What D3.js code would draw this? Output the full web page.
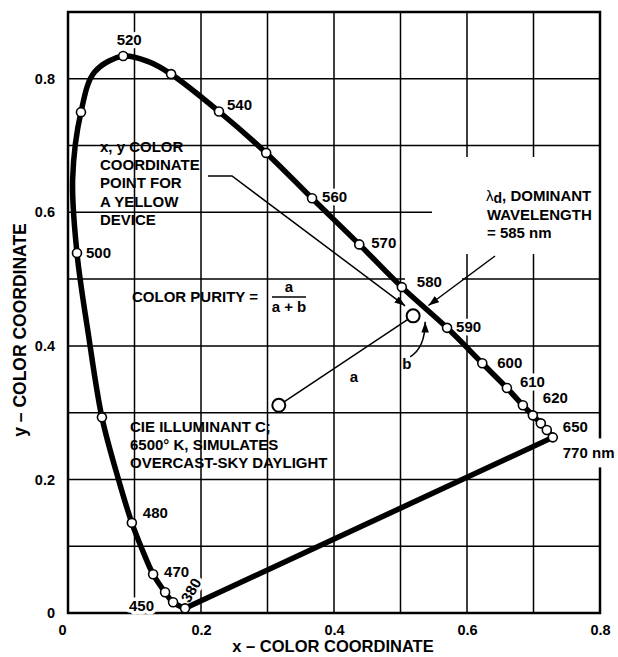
<!DOCTYPE html>
<html>
  <script src="https://d3js.org/d3.v7.min.js" type="text/JavaScript"></script>
  <style>
    body { margin: 0; background: #fff; }
    text { font-family: "Liberation Sans", Arial, sans-serif; font-weight: bold; fill: #000; }
  </style>
  <body>
    <svg></svg>
    <script>
// spectral locus (x, y chromaticity)
var waveNm = [380, 450, 460, 470, 475, 480, 485, 490, 495, 500, 505, 510, 515, 520, 525, 530, 540, 550, 560, 570, 580, 590, 600, 610, 620, 630, 640, 650, 770];
var locusX = [0.176, 0.158, 0.146, 0.128, 0.112, 0.096, 0.073, 0.051, 0.031, 0.0135, 0.007, 0.0195, 0.040, 0.083, 0.120, 0.155, 0.227, 0.298, 0.367, 0.438, 0.502, 0.570, 0.623, 0.660, 0.684, 0.699, 0.711, 0.720, 0.729];
var locusY = [0.007, 0.016, 0.031, 0.058, 0.094, 0.135, 0.210, 0.293, 0.415, 0.539, 0.650, 0.750, 0.810, 0.834, 0.826, 0.807, 0.751, 0.689, 0.621, 0.552, 0.488, 0.427, 0.374, 0.337, 0.311, 0.296, 0.284, 0.274, 0.263];
var hasDot = [1, 1, 1, 1, 0, 1, 0, 1, 0, 1, 0, 1, 0, 1, 0, 1, 1, 1, 1, 1, 1, 1, 1, 1, 1, 1, 1, 1, 1];

var labelNm = [380, 450, 470, 480, 500, 520, 540, 560, 570, 580, 590, 600, 610, 620, 650, 770];

var illumC = [0.317, 0.311];      // CIE illuminant C
var yellowPt = [0.519, 0.445];    // yellow device
var dominantNm = 585;

var xTicks = [0, 0.2, 0.4, 0.6, 0.8];
var yTicks = [0, 0.2, 0.4, 0.6, 0.8];

var W = 618, H = 657;
var svg = d3.select('svg').attr('width', W).attr('height', H);
svg.append('rect').attr('width', W).attr('height', H).attr('fill', '#fff');

var x = d3.scaleLinear().domain([0, 0.8]).range([68, 600]);
var y = d3.scaleLinear().domain([0, 0.9]).range([613, 12]);

var defs = svg.append('defs');
defs.append('marker')
  .attr('id', 'arr')
  .attr('viewBox', '0 0 10 7')
  .attr('refX', 10).attr('refY', 3.5)
  .attr('markerWidth', 11).attr('markerHeight', 7.5)
  .attr('markerUnits', 'userSpaceOnUse')
  .attr('orient', 'auto')
  .append('path').attr('d', 'M0,0 L10,3.5 L0,7 z').attr('fill', '#000');

var pts = waveNm.map((w, i) => ({ nm: w, x: locusX[i], y: locusY[i], dot: hasDot[i] }));

// grid
var grid = svg.append('g').attr('stroke', '#000').attr('stroke-width', 1.5);
grid.selectAll('.gx').data(x.ticks(8).filter(d => d > 0 && d < 0.8)).enter()
  .append('line')
    .attr('x1', d => x(d)).attr('x2', d => x(d))
    .attr('y1', y(0)).attr('y2', y(0.9));
grid.selectAll('.gy').data(y.ticks(9).filter(d => d > 0 && d < 0.9)).enter()
  .append('line')
    .attr('y1', d => y(d)).attr('y2', d => y(d))
    .attr('x1', x(0)).attr('x2', x(0.8));

// white patches where the grid is broken in the original
svg.append('rect')
  .attr('x', 432).attr('y', 157).attr('width', 168).attr('height', 97)
  .attr('fill', '#fff');
svg.append('rect')
  .attr('x', 405).attr('y', 268).attr('width', 57).attr('height', 22)
  .attr('fill', '#fff');

// white inside of the horseshoe hides the grid
var locusLine = d3.line().x(d => x(d.x)).y(d => y(d.y)).curve(d3.curveCatmullRom.alpha(0.5));
var closed = locusLine(pts) + 'Z';
svg.append('path').attr('d', closed).attr('fill', '#fff').attr('stroke', 'none');

// frame
svg.append('rect')
  .attr('x', x(0)).attr('y', y(0.9))
  .attr('width', x(0.8) - x(0)).attr('height', y(0) - y(0.9))
  .attr('fill', 'none').attr('stroke', '#000').attr('stroke-width', 2.5);

// axes
var xAxis = svg.append('g')
  .attr('transform', 'translate(0,' + y(0) + ')')
  .call(d3.axisBottom(x).tickValues(xTicks).tickSize(0).tickPadding(12)
    .tickFormat(d => d === 0 ? '0' : d3.format('.1f')(d)));
xAxis.select('.domain').remove();
xAxis.selectAll('text').attr('font-size', 14.5).attr('font-family', null)
  .attr('dx', d => d === 0 ? -6 : 0);

var yAxis = svg.append('g')
  .attr('transform', 'translate(' + x(0) + ',0)')
  .call(d3.axisLeft(y).tickValues(yTicks).tickSize(0).tickPadding(13)
    .tickFormat(d => d === 0 ? '0' : d3.format('.1f')(d)));
yAxis.select('.domain').remove();
yAxis.selectAll('text').attr('font-size', 14.5).attr('font-family', null);

svg.append('text')
  .attr('x', 333).attr('y', 652)
  .attr('text-anchor', 'middle').attr('font-size', 16.5)
  .text('x \u2013 COLOR COORDINATE');
svg.append('text')
  .attr('transform', 'translate(26,330) rotate(-90)')
  .attr('text-anchor', 'middle').attr('font-size', 17.5)
  .text('y \u2013 COLOR COORDINATE');

// wavelength labels, placed beside their points
var lblOff = {
  380: [6, -18, 'middle'], 450: [-19, 9, 'end'], 470: [11, 3, 'start'], 480: [11, -5, 'start'],
  500: [9, 5, 'start'], 520: [6, -11, 'middle'], 540: [8, -1, 'start'], 560: [10, 4, 'start'],
  570: [12, 4, 'start'], 580: [15, 0, 'start'], 590: [9, 4, 'start'], 600: [15, 5, 'start'],
  610: [13, -1, 'start'], 620: [20, -2, 'start'], 650: [16, 2, 'start'], 770: [10, 21, 'start']
};
var lbls = svg.append('g').attr('font-size', 15);
labelNm.forEach(nm => {
  var p = pts.find(d => d.nm === nm);
  var o = lblOff[nm];
  var px = x(p.x) + o[0], py = y(p.y) + o[1];
  var t = lbls.append('text')
    .attr('text-anchor', o[2])
    .attr('stroke', '#fff').attr('stroke-width', 7).attr('stroke-linejoin', 'round')
    .attr('paint-order', 'stroke')
    .text(nm === 770 ? '770 nm' : nm);
  if (nm === 380) {
    t.attr('transform', 'translate(' + px + ',' + py + ') rotate(-60)').attr('dy', '0.35em');
  } else {
    t.attr('x', px).attr('y', py);
  }
  if (nm === 770) {
    var bb = t.node().getBBox();
    lbls.insert('rect', 'text')
      .attr('x', bb.x - 2).attr('y', bb.y - 6)
      .attr('width', bb.width + 4).attr('height', bb.height + 12)
      .attr('fill', '#fff');
  }
});

// locus and purple line
svg.append('path').attr('d', locusLine(pts))
  .attr('fill', 'none').attr('stroke', '#000').attr('stroke-width', 5.5)
  .attr('stroke-linejoin', 'round');
svg.append('line')
  .attr('x1', x(pts[0].x)).attr('y1', y(pts[0].y))
  .attr('x2', x(pts[pts.length - 1].x)).attr('y2', y(pts[pts.length - 1].y))
  .attr('stroke', '#000').attr('stroke-width', 5.5).attr('stroke-linecap', 'round');

svg.append('g').selectAll('circle')
  .data(pts.filter(d => d.dot))
  .enter()
  .append('circle')
    .attr('cx', d => x(d.x)).attr('cy', d => y(d.y))
    .attr('r', 4.5)
    .attr('fill', '#fff').attr('stroke', '#000').attr('stroke-width', 1.6);

// purity construction
var cx0 = x(illumC[0]), cy0 = y(illumC[1]);
var cx1 = x(yellowPt[0]), cy1 = y(yellowPt[1]);
svg.append('line')
  .attr('x1', cx0).attr('y1', cy0).attr('x2', cx1).attr('y2', cy1)
  .attr('stroke', '#000').attr('stroke-width', 1.5);
[[cx0, cy0], [cx1, cy1]].forEach(c => {
  svg.append('circle').attr('cx', c[0]).attr('cy', c[1]).attr('r', 6.5)
    .attr('fill', '#fff').attr('stroke', '#000').attr('stroke-width', 2);
});

svg.append('text').attr('x', cx0 + 71).attr('y', cy0 - 23).attr('font-size', 15).text('a');
svg.append('text').attr('x', cx1 - 11).attr('y', cy1 + 53).attr('font-size', 15).text('b');

// curved arrow from b up to the locus
svg.append('path')
  .attr('d', 'M' + (cx1 - 3) + ',' + (cy1 + 41) + ' Q' + (cx1 + 12) + ',' + (cy1 + 32) + ' ' + (cx1 + 12) + ',' + (cy1 + 6))
  .attr('fill', 'none').attr('stroke', '#000').attr('stroke-width', 1.5)
  .attr('marker-end', 'url(#arr)');

// leader to the yellow point
svg.append('path')
  .attr('d', 'M208,176 L232,176 L' + (cx1 - 8) + ',' + (cy1 - 10))
  .attr('fill', 'none').attr('stroke', '#000').attr('stroke-width', 1.5)
  .attr('marker-end', 'url(#arr)');

// dominant wavelength arrow
var i0 = waveNm.indexOf(580), i1 = waveNm.indexOf(590);
var f = (dominantNm - 580) / 10;
var dx = x(locusX[i0] + f * (locusX[i1] - locusX[i0]));
var dy = y(locusY[i0] + f * (locusY[i1] - locusY[i0]));
svg.append('line')
  .attr('x1', 495).attr('y1', 256).attr('x2', dx + 4).attr('y2', dy - 2)
  .attr('stroke', '#000').attr('stroke-width', 1.5)
  .attr('marker-end', 'url(#arr)');

// notes
function block(x0, y0, lines) {
  var t = svg.append('text').attr('font-size', 15);
  lines.forEach((s, i) => t.append('tspan').attr('x', x0).attr('y', y0 + i * 18.2).text(s));
  return t;
}
block(100, 152, ['x, y COLOR', 'COORDINATE', 'POINT FOR', 'A YELLOW', 'DEVICE']);
block(130, 432, ['CIE ILLUMINANT C;', '6500\u00b0 K, SIMULATES', 'OVERCAST-SKY DAYLIGHT']);

var dom = svg.append('text').attr('font-size', 15);
var l1 = dom.append('tspan').attr('x', 486).attr('y', 201);
l1.append('tspan').attr('font-weight', 'normal').text('\u03bb');
l1.append('tspan').attr('dy', 2).attr('font-size', 14).text('d');
l1.append('tspan').attr('dy', -2).text(', DOMINANT');
dom.append('tspan').attr('x', 487).attr('y', 220).text('WAVELENGTH');
dom.append('tspan').attr('x', 487).attr('y', 238).text('= 585 nm');

svg.append('text').attr('x', 132).attr('y', 302).attr('font-size', 15).text('COLOR PURITY =');
svg.append('text').attr('x', 289).attr('y', 292).attr('text-anchor', 'middle').attr('font-size', 15).text('a');
svg.append('line').attr('x1', 272).attr('x2', 306).attr('y1', 297).attr('y2', 297)
  .attr('stroke', '#000').attr('stroke-width', 1.5);
svg.append('text').attr('x', 289).attr('y', 312).attr('text-anchor', 'middle').attr('font-size', 15).text('a + b');
    </script>
  </body>
</html>
